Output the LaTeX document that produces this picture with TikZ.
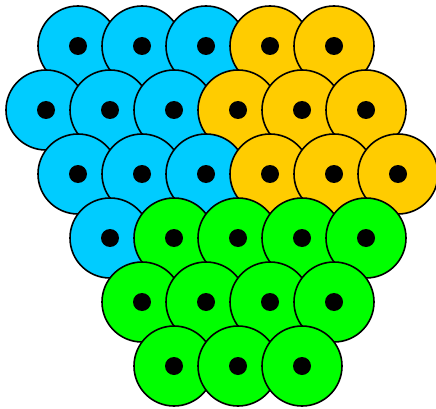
\documentclass[tikz,border=0pt]{standalone}
\usepackage{xcolor}
\usepackage{tikz}

\definecolor{skyblue}{HTML}{00CCFF}
\definecolor{gold}{HTML}{FFCC00}
\definecolor{lime}{HTML}{00FF00}

\begin{document}
\begin{tikzpicture}[
  x=1pt, y=-1pt,
  ball/.style={circle, draw=black, line width=1.6pt, minimum size=80pt, inner sep=0pt},
  pip/.style={circle, fill=black, minimum size=18pt, inner sep=0pt}
]
\useasboundingbox (0,0) rectangle (436,409);

% row 1
\foreach \x/\c [count=\i] in {78/skyblue,142/skyblue,206/skyblue,270/gold,334/gold}
  \node[ball, fill=\c] (r1c\i) at (\x,46) {};
% row 2
\foreach \x/\c [count=\i] in {46/skyblue,110/skyblue,174/skyblue,238/gold,302/gold,366/gold}
  \node[ball, fill=\c] (r2c\i) at (\x,110) {};
% row 3
\foreach \x/\c [count=\i] in {78/skyblue,142/skyblue,206/skyblue,270/gold,334/gold,398/gold}
  \node[ball, fill=\c] (r3c\i) at (\x,174) {};
% row 4
\foreach \x/\c [count=\i] in {110/skyblue,174/lime,238/lime,302/lime,366/lime}
  \node[ball, fill=\c] (r4c\i) at (\x,238) {};
% row 5
\foreach \x [count=\i] in {142,206,270,334}
  \node[ball, fill=lime] (r5c\i) at (\x,302) {};
% row 6
\foreach \x [count=\i] in {174,238,302}
  \node[ball, fill=lime] (r6c\i) at (\x,366) {};

% centre dots
\foreach \r/\n in {1/5,2/6,3/6,4/5,5/4,6/3}
  \foreach \i in {1,...,\n}
    \node[pip] at (r\r c\i) {};

\end{tikzpicture}
\end{document}
